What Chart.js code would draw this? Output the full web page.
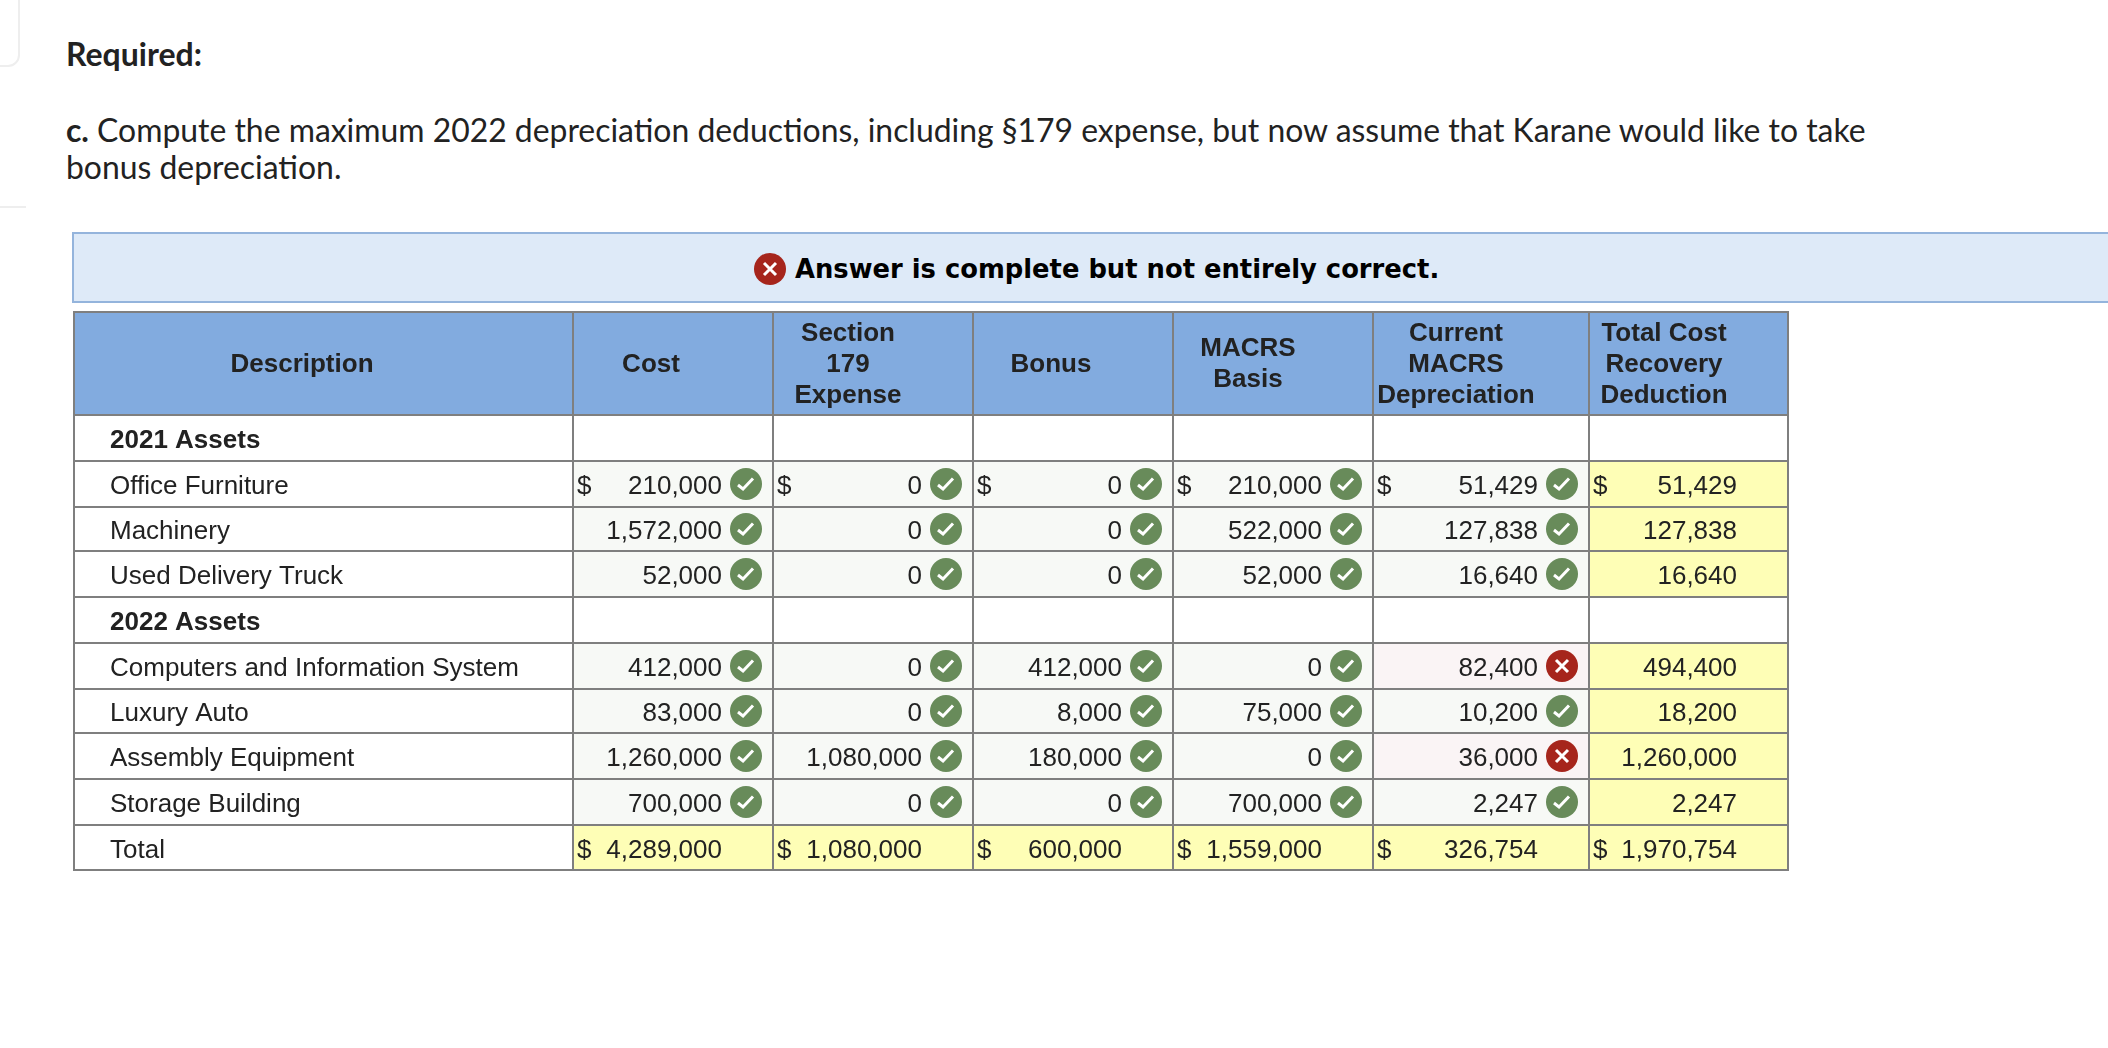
<!DOCTYPE html>
<html>
<head>
<meta charset="utf-8">
<title>Required</title>
<script src="https://cdn.jsdelivr.net/npm/chart.js@4/dist/chart.umd.min.js"></script>
<style>
  html, body { margin: 0; padding: 0; background: #fff; overflow: hidden; }
  body { width: 2108px; height: 1048px; position: relative; }
  .abs { position: absolute; white-space: nowrap; }
  .prose { font-family: Lato, sans-serif; color: #222; }
  #required { left: 66px; top: 35px; font-size: 32px; line-height: 38px; font-weight: 700; }
  #question { left: 66px; top: 112px; font-size: 31.9px; line-height: 36.5px; }
  #banner { left: 72px; top: 232px; right: -4px; height: 67px; background: #deeaf8; border: 2px solid #94b4dc; }
  #banner-text { left: 795px; top: 250px; font: 700 25.8px/38px "DejaVu Sans", sans-serif; color: #000; }
  #banner-icon { left: 754px; top: 253px; }
  #corner { left: -20px; top: -20px; width: 36px; height: 83px; border: 2px solid #eee; border-radius: 12px; }
  #rule { left: 0; top: 206px; width: 26px; height: 2px; background: #eee; }
  canvas { position: absolute; left: 0; top: 0; }
</style>
</head>
<body>
<div class="abs" id="corner"></div>
<div class="abs" id="rule"></div>
<div class="abs prose" id="required">Required:</div>
<div class="abs prose" id="question"><b>c.</b> Compute the maximum 2022 depreciation deductions, including §179 expense, but now assume that Karane would like to take<br>bonus depreciation.</div>
<div class="abs" id="banner"></div>
<svg class="abs" id="banner-icon" width="32" height="32" viewBox="0 0 32 32">
  <circle cx="16" cy="16" r="16" fill="#a6251c"/>
  <path d="M10 10L22 22M22 10L10 22" stroke="#fff" stroke-width="3" fill="none"/>
</svg>
<div class="abs" id="banner-text">Answer is complete but not entirely correct.</div>
<canvas id="table" width="2108" height="1048"></canvas>

<script>
// ── Table data ───────────────────────────────────────────────────
const rowLabels = ['2021 Assets', 'Office Furniture', 'Machinery', 'Used Delivery Truck', '2022 Assets',
  'Computers and Information System', 'Luxury Auto', 'Assembly Equipment', 'Storage Building', 'Total'];
const headerLines = [
  ['Description'],
  ['Cost'],
  ['Section', '179', 'Expense'],
  ['Bonus'],
  ['MACRS', 'Basis'],
  ['Current', 'MACRS', 'Depreciation'],
  ['Total Cost', 'Recovery', 'Deduction'],
];
const cost = [null, 210000, 1572000, 52000, null, 412000, 83000, 1260000, 700000, 4289000];
const section179 = [null, 0, 0, 0, null, 0, 0, 1080000, 0, 1080000];
const bonus = [null, 0, 0, 0, null, 412000, 8000, 180000, 0, 600000];
const macrsBasis = [null, 210000, 522000, 52000, null, 0, 75000, 0, 700000, 1559000];
const currentMacrs = [null, 51429, 127838, 16640, null, 82400, 10200, 36000, 2247, 326754];
const totalRecovery = [null, 51429, 127838, 16640, null, 494400, 18200, 1260000, 2247, 1970754];
const valueColumns = [cost, section179, bonus, macrsBasis, currentMacrs, totalRecovery];
const wrongInCurrent = ['Computers and Information System', 'Assembly Equipment'];
const dollarRows = ['Office Furniture', 'Total'];

// ── Layout (page pixels, the two hidden linear scales run 1:1) ───
const COL_EDGES = [73, 573, 773, 973, 1173, 1373, 1589, 1789];
const ROW_EDGES = [311, 415, 461, 507, 551, 597, 643, 689, 733, 779, 825, 871];
const HEAD_LINE = 31;
const HEAD_SHIFTS = [-21, -22, -25, -22, -25, -25, -25];
const TEXT_DROP = 2.5;
const FONT = '26px "Liberation Sans", Arial, sans-serif';
const FONT_BOLD = 'bold ' + FONT;

const COLORS = {
  line: '#7f7f7f', text: '#222', head: '#82abdf', white: '#fff', checked: '#f7f9f6',
  wrong: '#faf4f5', yellow: '#fefeb6', ok: '#688b5a', bad: '#a6251c',
};

const isTotal = (r) => rowLabels[r] === 'Total';
const isWrong = (r, c) => c === 4 && wrongInCurrent.includes(rowLabels[r]);

function cellColor(r, c) {
  if (c === 0 || valueColumns[c - 1][r] === null) return COLORS.white;
  if (isTotal(r) || c === 6) return COLORS.yellow;
  return isWrong(r, c - 1) ? COLORS.wrong : COLORS.checked;
}

function rowDataset(top, bottom, colorFn) {
  const edges = COL_EDGES.slice(0, -1);
  return {
    type: 'bar',
    order: 2,
    barThickness: bottom - top,
    inflateAmount: 0,
    data: edges.map((left, c) => ({ x: [left, COL_EDGES[c + 1]], y: (top + bottom) / 2 })),
    backgroundColor: edges.map((_, c) => colorFn(c)),
    borderColor: COLORS.line,
    borderWidth: edges.map((_, c) => ({
      left: c === 0 ? 2 : 1,
      right: c === edges.length - 1 ? 2 : 1,
      top: top === ROW_EDGES[0] ? 2 : 1,
      bottom: bottom === ROW_EDGES[ROW_EDGES.length - 1] ? 2 : 1,
    })),
    borderSkipped: false,
  };
}

function rowCenter(r) {
  return (ROW_EDGES[r + 1] + ROW_EDGES[r + 2]) / 2;
}

// check / cross marks are points on the same scales as the cells
function markPoints(wanted) {
  const pts = [];
  rowLabels.forEach((_, r) => {
    if (isTotal(r)) return;
    valueColumns.slice(0, 5).forEach((col, c) => {
      if (col[r] !== null && isWrong(r, c) === wanted) pts.push({ x: COL_EDGES[c + 2] - 27, y: rowCenter(r) });
    });
  });
  return pts;
}

function markDataset(wanted) {
  return {
    type: 'scatter',
    order: 1,
    data: markPoints(wanted),
    pointStyle: 'circle',
    pointRadius: 16,
    pointBorderWidth: 0,
    pointBackgroundColor: wanted ? COLORS.bad : COLORS.ok,
  };
}

// ── Text and glyphs on top of the cells ──────────────────────────
const tableText = {
  id: 'tableText',
  afterDraw(chart) {
    const { ctx, scales: { x, y } } = chart;
    ctx.save();
    ctx.textBaseline = 'middle';
    ctx.fillStyle = COLORS.text;

    ctx.font = FONT_BOLD;
    ctx.textAlign = 'center';
    headerLines.forEach((lines, c) => {
      const cx = x.getPixelForValue((COL_EDGES[c] + COL_EDGES[c + 1]) / 2 + HEAD_SHIFTS[c]);
      const mid = (ROW_EDGES[0] + ROW_EDGES[1]) / 2 - 1 + TEXT_DROP;
      lines.forEach((line, i) => {
        ctx.fillText(line, cx, y.getPixelForValue(mid + (i - (lines.length - 1) / 2) * HEAD_LINE));
      });
    });

    rowLabels.forEach((label, r) => {
      const cy = y.getPixelForValue(rowCenter(r) + TEXT_DROP);
      const blank = cost[r] === null;
      ctx.font = blank ? FONT_BOLD : FONT;
      ctx.textAlign = 'left';
      ctx.fillText(label, x.getPixelForValue(COL_EDGES[0] + 37), cy);
      if (blank) return;
      ctx.font = FONT;
      valueColumns.forEach((col, c) => {
        ctx.textAlign = 'right';
        const inset = c === valueColumns.length - 1 ? 52 : 51;
        ctx.fillText(col[r].toLocaleString('en-US'), x.getPixelForValue(COL_EDGES[c + 2] - inset), cy);
        if (dollarRows.includes(label)) {
          ctx.textAlign = 'left';
          ctx.fillText('$', x.getPixelForValue(COL_EDGES[c + 1] + 4), cy);
        }
      });
    });

    ctx.strokeStyle = COLORS.white;
    ctx.lineWidth = 3;
    chart.data.datasets.forEach((ds, i) => {
      if (ds.type !== 'scatter') return;
      const wrong = ds.pointBackgroundColor === COLORS.bad;
      chart.getDatasetMeta(i).data.forEach((pt) => {
        ctx.beginPath();
        if (wrong) {
          ctx.moveTo(pt.x - 6, pt.y - 6); ctx.lineTo(pt.x + 6, pt.y + 6);
          ctx.moveTo(pt.x + 6, pt.y - 6); ctx.lineTo(pt.x - 6, pt.y + 6);
        } else {
          ctx.moveTo(pt.x - 8, pt.y + 1); ctx.lineTo(pt.x - 3, pt.y + 5); ctx.lineTo(pt.x + 7, pt.y - 5.5);
        }
        ctx.stroke();
      });
    });
    ctx.restore();
  },
};

// ── Chart ────────────────────────────────────────────────────────
const datasets = [markDataset(false), markDataset(true)];
datasets.push(rowDataset(ROW_EDGES[0], ROW_EDGES[1], () => COLORS.head));
rowLabels.forEach((_, r) => {
  datasets.push(rowDataset(ROW_EDGES[r + 1], ROW_EDGES[r + 2], (c) => cellColor(r, c)));
});

new Chart(document.getElementById('table').getContext('2d'), {
  type: 'bar',
  data: { datasets },
  plugins: [tableText],
  options: {
    indexAxis: 'y',
    responsive: false,
    animation: false,
    events: [],
    layout: { padding: 0, autoPadding: false },
    datasets: { bar: { grouped: false } },
    plugins: { legend: { display: false }, tooltip: { enabled: false } },
    scales: {
      x: { type: 'linear', min: 0, max: 2108, display: false, offset: false },
      y: { type: 'linear', min: 0, max: 1048, reverse: true, display: false, offset: false },
    },
  },
});
</script>
</body>
</html>
